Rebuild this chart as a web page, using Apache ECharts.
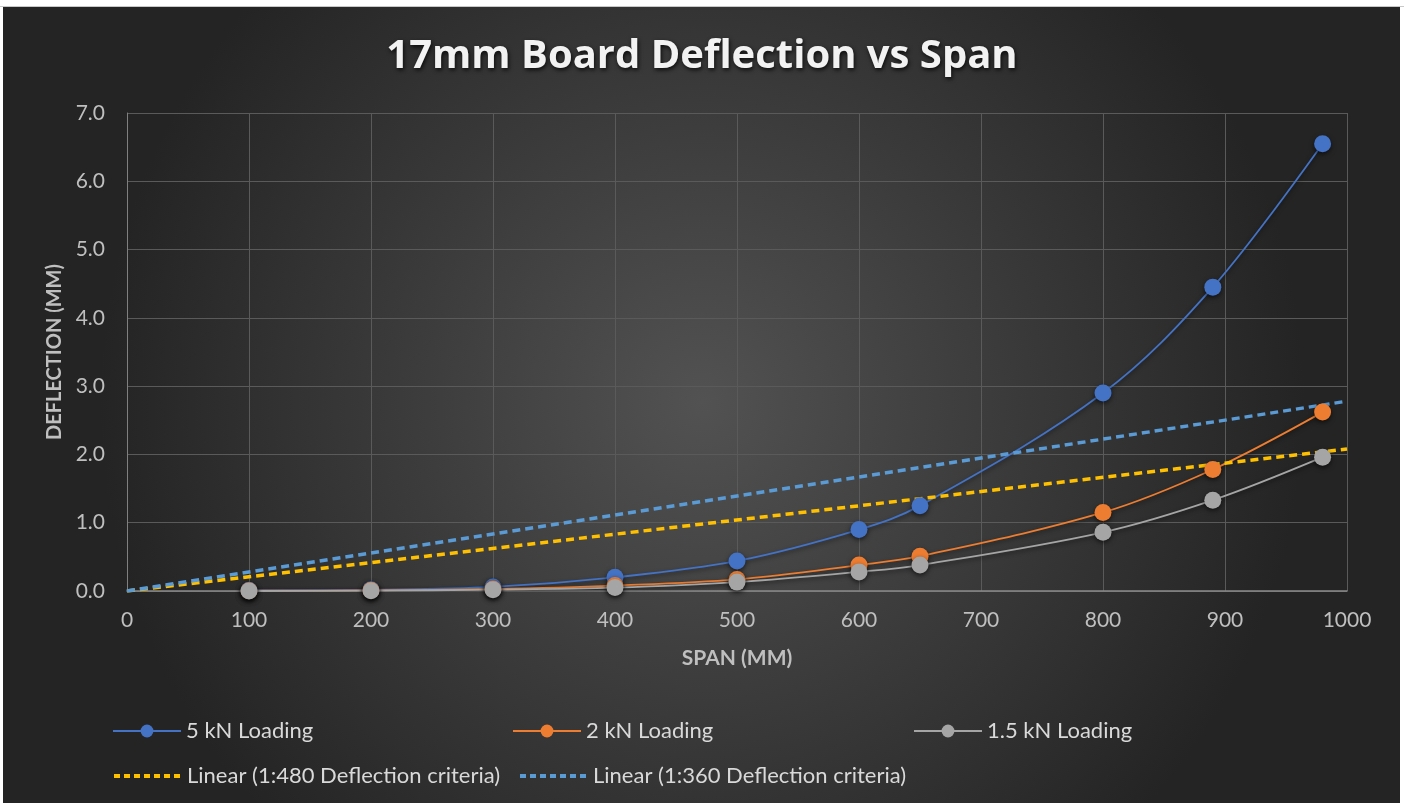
<!DOCTYPE html>
<html><head><meta charset="utf-8">
<script src="https://cdn.jsdelivr.net/npm/echarts@6/dist/echarts.min.js"></script>
<style>html,body{margin:0;padding:0;background:#fff;}#c{width:1404px;height:803px;}</style>
</head><body><div id="c"></div>
<script>
const span = [100, 200, 300, 400, 500, 600, 650, 800, 890, 980];
const load5 = [0.01, 0.02, 0.06, 0.20, 0.44, 0.90, 1.25, 2.90, 4.45, 6.55];
const load2 = [0.005, 0.01, 0.03, 0.08, 0.17, 0.38, 0.51, 1.15, 1.78, 2.62];
const load15 = [0.0, 0.005, 0.02, 0.05, 0.13, 0.28, 0.38, 0.86, 1.33, 1.96];
const linSpan = [0, 1000];
const lin480 = [0, 2.08];
const lin360 = [0, 2.78];
const names = ['5 kN Loading', '2 kN Loading', '1.5 kN Loading', 'Linear (1:480 Deflection criteria)', 'Linear (1:360 Deflection criteria)'];

const pair = (xs, ys) => xs.map((x, i) => [x, ys[i]]);
const font = 'Lato, "Open Sans", sans-serif';
const chart = echarts.init(document.getElementById('c'));

function dataSeries(name, data, color) {
  return {
    name, type: 'line', data: pair(span, data), smooth: 0.35,
    symbol: 'circle', symbolSize: 17,
    lineStyle: {color, width: 1.8, shadowColor: 'rgba(0,0,0,0.5)', shadowBlur: 4, shadowOffsetY: 2},
    itemStyle: {color, shadowColor: 'rgba(0,0,0,0.6)', shadowBlur: 5, shadowOffsetY: 2},
    emphasis: {disabled: true}
  };
}
function linSeries(name, data, color) {
  return {
    name, type: 'line', data: pair(linSpan, data), symbol: 'none',
    lineStyle: {color, width: 3.5, type: [8, 5]},
    itemStyle: {color},
    emphasis: {disabled: true}
  };
}
function leg(name, left, top, dashed) {
  const l = {
    data: [name], left, top, padding: 0, itemWidth: 68, itemHeight: 16, itemGap: 0,
    textStyle: {color: '#d9d9d9', fontSize: 22, fontFamily: font}, selectedMode: false
  };
  if (dashed) {
    l.itemStyle = {opacity: 0};
    l.lineStyle = {width: 4, type: [6, 4]};
  }
  return l;
}

chart.setOption({
  animation: false,
  backgroundColor: {
    type: 'radial', x: 0.5, y: 0.5, r: 0.75,
    colorStops: [{offset: 0, color: '#525252'}, {offset: 1, color: '#242424'}]
  },
  graphic: [
    {type: 'rect', left: 0, top: 0, shape: {width: 1404, height: 7}, style: {fill: '#ffffff'}, z: 100},
    {type: 'rect', left: 0, top: 6, shape: {width: 1404, height: 1}, style: {fill: '#c8c8c8'}, z: 101},
    {type: 'rect', left: 0, top: 0, shape: {width: 3, height: 803}, style: {fill: '#ffffff'}, z: 100},
    {type: 'rect', left: 1400, top: 0, shape: {width: 4, height: 803}, style: {fill: '#ffffff'}, z: 100}
  ],
  title: {
    text: '17mm Board Deflection vs Span', left: 'center', top: 32,
    textStyle: {color: '#f2f2f2', fontSize: 40, fontWeight: 'bold', fontFamily: '"Open Sans", Lato, sans-serif',
      textShadowColor: 'rgba(0,0,0,0.8)', textShadowBlur: 4, textShadowOffsetX: 1, textShadowOffsetY: 2}
  },
  legend: [
    leg(names[0], 112, 720),
    leg(names[1], 512, 720),
    leg(names[2], 913, 720),
    leg(names[3], 112, 765, true),
    leg(names[4], 518, 765, true)
  ],
  grid: {left: 127, right: 57, top: 113, bottom: 212, containLabel: false},
  xAxis: {
    type: 'value', min: 0, max: 1000, interval: 100,
    name: 'SPAN (MM)', nameLocation: 'middle', nameGap: 57,
    nameTextStyle: {color: '#bfbfbf', fontSize: 21, fontWeight: 'bold', fontFamily: font},
    axisLine: {show: true, lineStyle: {color: '#8a8a8a', width: 1.5}},
    axisTick: {show: false},
    axisLabel: {color: '#bfbfbf', fontSize: 21, fontFamily: font, margin: 19, formatter: v => String(v)},
    splitLine: {show: true, lineStyle: {color: '#5a5a5a', width: 1}}
  },
  yAxis: {
    type: 'value', min: 0, max: 7, interval: 1,
    name: 'DEFLECTION (MM)', nameLocation: 'middle', nameGap: 58,
    nameTextStyle: {color: '#bfbfbf', fontSize: 20, fontWeight: 'bold', fontFamily: font},
    axisLine: {show: true, lineStyle: {color: '#808080', width: 1}},
    axisTick: {show: false},
    axisLabel: {color: '#bfbfbf', fontSize: 21, fontFamily: font, margin: 22, formatter: v => v.toFixed(1)},
    splitLine: {show: true, lineStyle: {color: '#5a5a5a', width: 1}}
  },
  series: [
    dataSeries(names[0], load5, '#4472c4'),
    dataSeries(names[1], load2, '#ed7d31'),
    dataSeries(names[2], load15, '#a5a5a5'),
    linSeries(names[3], lin480, '#ffc000'),
    linSeries(names[4], lin360, '#5b9bd5')
  ]
});
</script></body></html>
